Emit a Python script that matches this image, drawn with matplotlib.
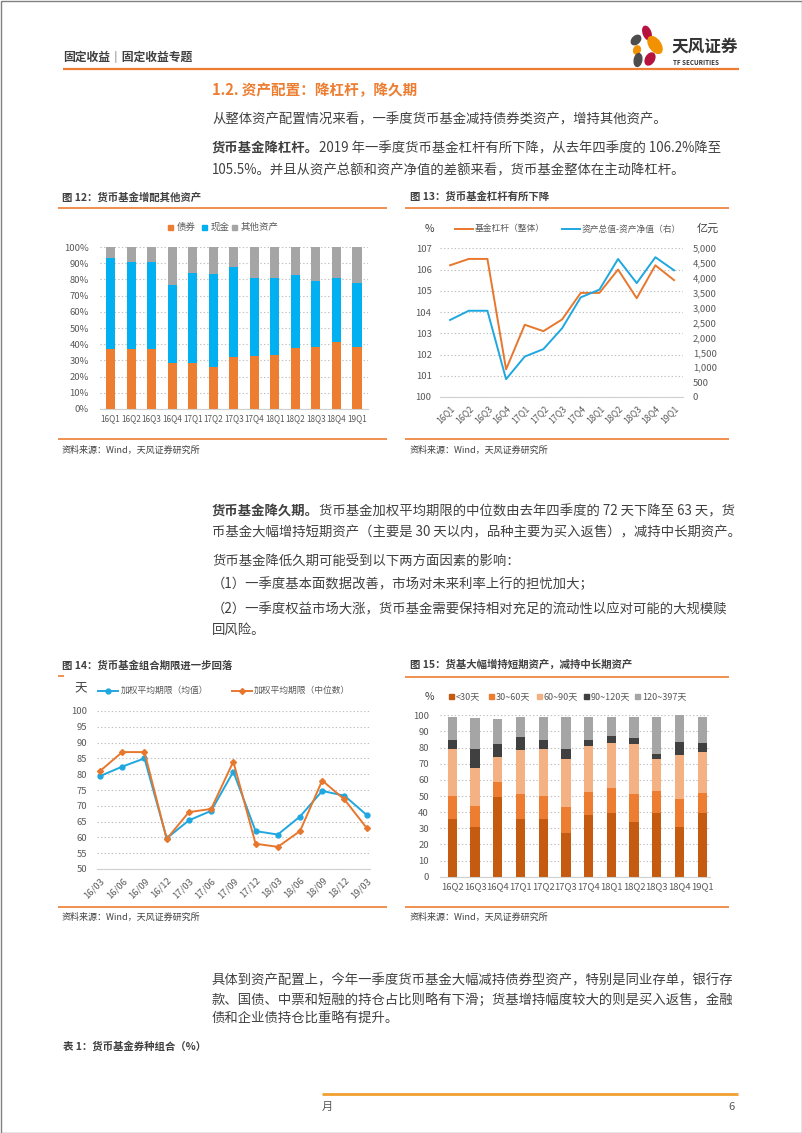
import matplotlib
matplotlib.use('Agg')
import matplotlib.pyplot as plt
from matplotlib.patches import Rectangle, Ellipse
from matplotlib.lines import Line2D

plt.rcParams['font.family'] = ['Noto Sans CJK SC', 'DejaVu Sans']

# ---------------- data ----------------
q12 = ['16Q1', '16Q2', '16Q3', '16Q4', '17Q1', '17Q2', '17Q3', '17Q4', '18Q1', '18Q2', '18Q3', '18Q4', '19Q1']
bond12 = [37, 37, 37, 28.5, 28.5, 26, 32, 32.5, 33.5, 37.5, 38.5, 41.5, 38]
cash12 = [56.5, 53.5, 53.5, 48, 55.5, 57.5, 55.5, 48.5, 47.5, 45, 40.5, 39.5, 40]
other12 = [6.5, 9.5, 9.5, 23.5, 16, 16.5, 12.5, 19, 19, 17.5, 21, 19, 22]
names12 = ['债券', '现金', '其他资产']

q13 = ['16Q1', '16Q2', '16Q3', '16Q4', '17Q1', '17Q2', '17Q3', '17Q4', '18Q1', '18Q2', '18Q3', '18Q4', '19Q1']
lev13 = [106.2, 106.5, 106.5, 101.3, 103.4, 103.1, 103.65, 104.9, 104.9, 106.0, 104.65, 106.2, 105.5]
gap13 = [2590, 2900, 2900, 600, 1360, 1610, 2310, 3350, 3610, 4640, 3830, 4700, 4260]
names13 = ['基金杠杆（整体）', '资产总值-资产净值（右）']

dates14 = ['16/03', '16/06', '16/09', '16/12', '17/03', '17/06', '17/09', '17/12', '18/03', '18/06', '18/09', '18/12', '19/03']
mean14 = [79.4, 82.4, 85.0, 59.7, 65.4, 68.4, 80.8, 62.0, 60.9, 66.6, 74.7, 73.2, 67.1]
median14 = [81, 87, 87, 59.5, 68, 69, 84, 58, 57, 62, 78, 72, 63]
names14 = ['加权平均期限（均值）', '加权平均期限（中位数）']

q15 = ['16Q2', '16Q3', '16Q4', '17Q1', '17Q2', '17Q3', '17Q4', '18Q1', '18Q2', '18Q3', '18Q4', '19Q1']
lt30 = [35.7, 30.6, 49.2, 35.5, 35.7, 27.3, 38.4, 39.5, 34.1, 39.3, 30.8, 39.5]
d30_60 = [14.3, 13.4, 9.7, 15.5, 14.3, 15.9, 13.9, 15.3, 16.9, 14.0, 17.1, 12.4]
d60_90 = [29.1, 23.1, 15.5, 27.3, 29.1, 29.5, 28.9, 28.1, 31.0, 19.8, 27.5, 25.2]
d90_120 = [5.9, 12.0, 7.8, 8.5, 5.9, 6.2, 3.3, 4.5, 3.7, 3.1, 8.1, 6.0]
d120_397 = [14.2, 19.0, 15.3, 12.0, 14.0, 20.1, 14.5, 11.8, 13.3, 23.0, 16.5, 15.9]
names15 = ['<30天', '30~60天', '60~90天', '90~120天', '120~397天']

# ---------------- colours ----------------
ORANGE = '#ED7D31'
BLUE = '#00B0F0'
GRAY = '#A5A5A5'
TXT = '#404040'
TICK = '#595959'
GRID = '#BFBFBF'
C15 = ['#C55A11', '#ED7D31', '#F4B183', '#404040', '#A5A5A5']
L_BLUE = '#1FA7E0'
L_ORANGE = '#E8772E'

W, H = 802, 1133
fig = plt.figure(figsize=(W / 100, H / 100), dpi=100)

bg = fig.add_axes([0, 0, 1, 1])
bg.set_xlim(0, W)
bg.set_ylim(H, 0)
bg.axis('off')


def box(l, t, r, b):
    return [l / W, 1 - b / H, (r - l) / W, (b - t) / H]


def hline(x0, x1, y, color, lw):
    bg.plot([x0, x1], [y, y], color=color, lw=lw, solid_capstyle='butt')


def txt(x, y, s, size, color=TXT, weight='normal', ha='left', va='center'):
    return bg.text(x, y, s, fontsize=size, color=color, fontweight=weight, ha=ha, va=va)


renderer = fig.canvas.get_renderer()


def runs(x, y, parts, size):
    for s, w in parts:
        t = txt(x, y, s, size, weight=w)
        x += t.get_window_extent(renderer).width


# page border
bg.add_patch(Rectangle((0.5, 0.5), W - 1, H - 1, fill=False, ec='#808080', lw=1))

# header
txt(63, 58, '固定收益｜固定收益专题', 8.5, weight='bold')
hline(63, 739, 68.5, ORANGE, 1.6)
petals = [((647, 33), 7.5, 14, -20, '#B5123E'),
          ((636, 40), 7.5, 11, 45, '#4D4D4D'),
          ((655, 45), 11, 19, -35, '#F39200'),
          ((637, 50), 6.5, 8.5, 20, '#F39200'),
          ((638, 60), 7.5, 13, 10, '#4D4D4D'),
          ((650, 59), 8.5, 13, 30, '#B5123E')]
for c, w, h, a, col in petals:
    bg.add_patch(Ellipse(c, w, h, angle=a, color=col))
txt(671, 47, '天风证券', 12, color='#333333', weight='bold')
txt(673, 62.5, 'TF SECURITIES', 4.5, color='#333333', weight='bold')

# section and paragraphs
txt(212, 90, '1.2. 资产配置：降杠杆，降久期', 10.5, color=ORANGE, weight='bold')
BODY = 9.6
txt(212, 119, '从整体资产配置情况来看，一季度货币基金减持债券类资产，增持其他资产。', BODY)
runs(212, 148, [('货币基金降杠杆。', 'bold'),
                ('2019 年一季度货币基金杠杆有所下降，从去年四季度的 106.2%降至', 'normal')], BODY)
txt(212, 170, '105.5%。并且从资产总额和资产净值的差额来看，货币基金整体在主动降杠杆。', BODY)

runs(212, 511, [('货币基金降久期。', 'bold'),
                ('货币基金加权平均期限的中位数由去年四季度的 72 天下降至 63 天，货', 'normal')], BODY)
txt(212, 532, '币基金大幅增持短期资产（主要是 30 天以内，品种主要为买入返售），减持中长期资产。', BODY)
txt(212, 562, '货币基金降低久期可能受到以下两方面因素的影响：', BODY)
txt(212, 584, '（1）一季度基本面数据改善，市场对未来利率上行的担忧加大；', BODY)
txt(212, 609, '（2）一季度权益市场大涨，货币基金需要保持相对充足的流动性以应对可能的大规模赎', BODY)
txt(212, 630, '回风险。', BODY)

txt(212, 980, '具体到资产配置上，今年一季度货币基金大幅减持债券型资产，特别是同业存单，银行存', BODY)
txt(212, 1000, '款、国债、中票和短融的持仓占比则略有下滑；货基增持幅度较大的则是买入返售，金融', BODY)
txt(212, 1019, '债和企业债持仓比重略有提升。', BODY)
txt(63, 1047, '表 1：货币基金券种组合（%）', 7.5, weight='bold')

# footer
hline(322, 738, 1094, '#F0A030', 2)
txt(322, 1107, '月', 8, color='#595959')
txt(735, 1107, '6', 8, color='#595959', ha='right')

# chart titles / frame lines / sources
txt(62, 197, '图 12：货币基金增配其他资产', 7.5, weight='bold')
hline(58, 387, 208, ORANGE, 1.2)
hline(58, 387, 439, ORANGE, 1.2)
txt(62, 450, '资料来源：Wind，天风证券研究所', 6.5)

txt(410, 197, '图 13：货币基金杠杆有所下降', 7.5, weight='bold')
hline(405, 729, 208, ORANGE, 1.2)
hline(405, 729, 439, ORANGE, 1.2)
txt(410, 450, '资料来源：Wind，天风证券研究所', 6.5)

txt(62, 665, '图 14：货币基金组合期限进一步回落', 7.5, weight='bold')
hline(58, 64, 676, ORANGE, 1.2)
hline(58, 387, 907, ORANGE, 1.2)
txt(62, 917, '资料来源：Wind，天风证券研究所', 6.5)

txt(410, 665, '图 15：货基大幅增持短期资产，减持中长期资产', 7.5, weight='bold')
hline(405, 729, 676.5, ORANGE, 1.2)
hline(405, 729, 907, ORANGE, 1.2)
txt(410, 917, '资料来源：Wind，天风证券研究所', 6.5)


def style(ax, ylim, yticks, ylabels, ypad, xpad, xsize=6.8):
    ax.set_facecolor('none')
    for s in ax.spines.values():
        s.set_visible(False)
    ax.spines['bottom'].set_visible(True)
    ax.spines['bottom'].set_color('#D0D0D0')
    ax.spines['bottom'].set_linewidth(0.8)
    ax.set_ylim(*ylim)
    ax.set_yticks(yticks)
    ax.set_yticklabels(ylabels)
    ax.yaxis.grid(True, linestyle=(0, (1.2, 2.0)), color=GRID, lw=0.8)
    ax.set_axisbelow(True)
    ax.tick_params(axis='y', length=0, labelsize=6.8, labelcolor=TICK, pad=ypad)
    ax.tick_params(axis='x', length=0, labelsize=xsize, labelcolor=TICK, pad=xpad)


# ---------------- chart 12 ----------------
ax12 = fig.add_axes(box(100, 247, 368, 409))
x12 = list(range(len(q12)))
ax12.bar(x12, bond12, width=0.45, color=ORANGE)
ax12.bar(x12, cash12, width=0.45, bottom=bond12, color=BLUE)
bot3 = [a + b for a, b in zip(bond12, cash12)]
ax12.bar(x12, other12, width=0.45, bottom=bot3, color=GRAY)
ax12.set_xlim(-0.52, len(q12) - 1 + 0.54)
yt = list(range(0, 101, 10))
style(ax12, (0, 100), yt, [f'{v}%' for v in yt], 8, 4, xsize=5.9)
ax12.set_xticks(x12)
ax12.set_xticklabels(q12)
for xs, xt, name, col in [(173, 177, names12[0], ORANGE), (207, 211, names12[1], BLUE), (237, 241, names12[2], GRAY)]:
    bg.add_patch(Rectangle((xs - 5, 224.5), 5, 5, color=col))
    txt(xt, 227.5, name, 6.8, color=TICK)

# ---------------- chart 13 ----------------
ax13 = fig.add_axes(box(440, 248.3, 683, 397))
x13 = list(range(len(q13)))
ax13.plot(x13, lev13, color=L_ORANGE, lw=1.4)
ax13.set_xlim(-0.54, len(q13) - 1 + 0.48)
yt13 = list(range(100, 108))
style(ax13, (100, 107), yt13, [str(v) for v in yt13], 6, 5, xsize=6.3)
ax13.set_xticks(x13)
ax13.set_xticklabels(q13, rotation=45, ha='right', rotation_mode='anchor')
ax13r = ax13.twinx()
ax13r.set_facecolor('none')
for s in ax13r.spines.values():
    s.set_visible(False)
ax13r.plot(x13, gap13, color=L_BLUE, lw=1.4)
ax13r.set_ylim(0, 5000)
rt = list(range(0, 5001, 500))
ax13r.set_yticks(rt)
ax13r.set_yticklabels([f'{v:,}' for v in rt])
ax13r.tick_params(axis='y', length=0, labelsize=6.8, labelcolor=TICK, pad=7)
txt(425, 229, '%', 7.5, color=TXT)
txt(697, 229, '亿元', 8, color=TXT)
bg.plot([455, 473], [229, 229], color=L_ORANGE, lw=1.4)
txt(475, 229, names13[0], 6.3, color=TICK)
bg.plot([562, 580], [229, 229], color=L_BLUE, lw=1.4)
txt(582, 229, names13[1], 6.3, color=TICK)

# ---------------- chart 14 ----------------
ax14 = fig.add_axes(box(96.7, 711, 370, 869))
x14 = list(range(len(dates14)))
ax14.plot(x14, mean14, color=L_BLUE, lw=1.4, marker='o', ms=3.5)
ax14.plot(x14, median14, color=L_ORANGE, lw=1.4, marker='D', ms=3)
ax14.set_xlim(-0.15, len(dates14) - 1 + 0.15)
yt14 = list(range(50, 101, 5))
style(ax14, (50, 100), yt14, [str(v) for v in yt14], 7, 5)
ax14.set_xticks(x14)
ax14.set_xticklabels(dates14, rotation=45, ha='right', rotation_mode='anchor')
txt(81, 689, '天', 9, color=TXT, ha='center')
bg.plot([98, 118], [690.5, 690.5], color=L_BLUE, lw=1.4)
bg.plot([108], [690.5], color=L_BLUE, marker='o', ms=3.5)
txt(121, 690.5, names14[0], 6.3, color=TICK)
bg.plot([232, 252], [690.5, 690.5], color=L_ORANGE, lw=1.4)
bg.plot([242], [690.5], color=L_ORANGE, marker='D', ms=3)
txt(254, 690.5, names14[1], 6.3, color=TICK)

# ---------------- chart 15 ----------------
ax15 = fig.add_axes(box(440, 715.3, 710, 876.7))
x15 = list(range(len(q15)))
bottom = [0] * len(q15)
for vals, col in zip([lt30, d30_60, d60_90, d90_120, d120_397], C15):
    ax15.bar(x15, vals, width=0.41, bottom=bottom, color=col)
    bottom = [a + b for a, b in zip(bottom, vals)]
ax15.set_xlim(-0.54, len(q15) - 1 + 0.34)
yt15 = list(range(0, 101, 10))
style(ax15, (0, 100), yt15, [str(v) for v in yt15], 8, 4)
ax15.set_xticks(x15)
ax15.set_xticklabels(q15)
txt(425, 697, '%', 7.5, color=TXT)
for xs, name, col in zip([451.7, 492, 540, 587, 638], names15, C15):
    bg.add_patch(Rectangle((xs - 3, 693.5), 5, 5, color=col))
    txt(xs + 4, 696.5, name, 6.5, color=TICK)

fig.savefig('out.png', dpi=100)
